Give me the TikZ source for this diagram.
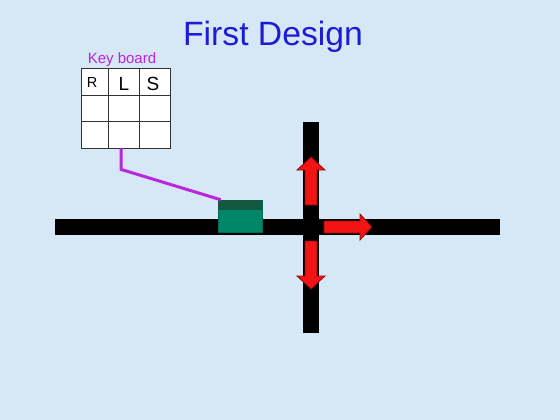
\documentclass[tikz,border=0pt]{standalone}
\usepackage{fontspec}
\setmainfont{Liberation Sans}

\definecolor{sky}{RGB}{214,231,245}
\definecolor{titleblue}{RGB}{28,28,214}
\definecolor{wirepurple}{RGB}{186,38,222}
\definecolor{carbody}{RGB}{0,134,104}
\definecolor{cartop}{RGB}{20,88,66}
\definecolor{arrowred}{RGB}{240,20,20}

\tikzset{
    cell/.style={draw=black!80, fill=white, line width=0.8pt, inner sep=0pt},
    keytxt/.style={font=\fontsize{19}{19}\selectfont},
    wire/.style={wirepurple, line width=3pt},
    road/.style={fill=black},
    redarr/.style={fill=arrowred, draw=arrowred!60!black, line width=0.8pt, line join=miter},
    car/.style={fill=carbody, draw=carbody!80!black, line width=0.5pt, minimum width=44pt, minimum height=32pt, inner sep=0pt}
}

\begin{document}
\begin{tikzpicture}[x=1pt,y=-1pt]
        \useasboundingbox[fill=sky] (0,0) rectangle (560,420);

        \node[titleblue, anchor=base, font=\fontsize{33.7}{36}\selectfont] (title) at (273,46) {First Design};

        % keyboard
        \node[wirepurple, anchor=base, font=\fontsize{15}{15}\selectfont] (kblabel) at (122,64) {Key board};
        \foreach \x/\w [count=\i] in {94.5/27,123.5/31,154.5/31}
            \foreach \y/\h [count=\j] in {81.5/27,108/26,134.5/27}
                \node[cell, minimum width=\w pt, minimum height=\h pt] (k\j\i) at (\x,\y) {};
        \node[keytxt, font=\fontsize{14.5}{14.5}\selectfont] (kR) at (92,83) {R};
        \node[keytxt] (kL) at (124,84) {L};
        \node[keytxt] (kS) at (153,84) {S};

        % roads
        \fill[road] (55,219) rectangle (500,235);
        \fill[road] (303,122) rectangle (319,333);

        % car
        \node[car] (car) at (240,216) {};
        \fill[cartop] (car.north west) rectangle ([yshift=-10pt]car.north east);

        \draw[wire] ([xshift=-2.5pt]k32.south) -- ++(0,21) -- ([xshift=3pt]car.north west);

        % red arrows
        \draw[redarr] (305,205) -- (305,170) -- (297,170) -- (311,157) -- (325,170) -- (317,170) -- (317,205) -- cycle;
        \draw[redarr] (305,241) -- (305,276) -- (297,276) -- (311,289) -- (325,276) -- (317,276) -- (317,241) -- cycle;
        \draw[redarr] (324,221) -- (360,221) -- (360,214) -- (372,227) -- (360,240) -- (360,233) -- (324,233) -- cycle;

    \end{tikzpicture}
\end{document}
